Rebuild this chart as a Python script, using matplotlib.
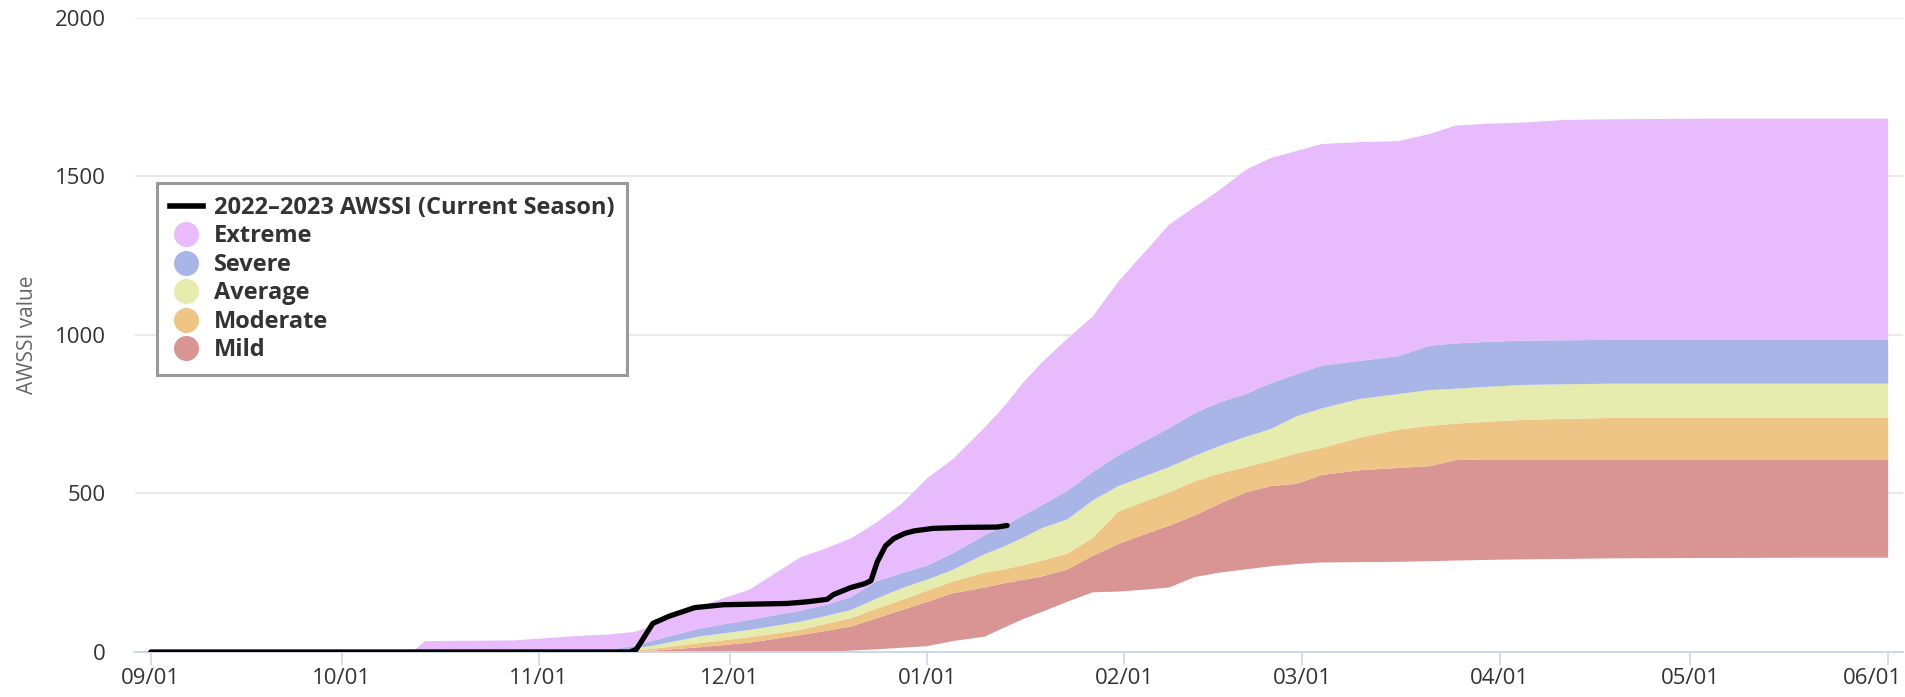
import matplotlib
matplotlib.use("Agg")
import matplotlib.pyplot as plt
import matplotlib.transforms as mtransforms
from matplotlib.lines import Line2D

"""
AWSSI season chart: climatology bands plus the current season line
"""

# days counted from 09/01
band_days = [41, 43, 57, 67, 72, 76, 79, 86, 94, 102, 106, 110, 114, 118, 122, 126,
             131, 134, 137, 140, 144, 148, 152, 156, 160, 164, 168, 172, 176, 180,
             184, 190, 196, 201, 205, 210, 216, 222, 230, 245, 260, 273]

# band edges (AWSSI value), lowest to highest
edge_min = [0, 0, 0, 0, 0, 0, 0, 0, 0, 0, 0, 6, 10, 15, 20, 36,
            50, 78, 105, 128, 160, 190, 192, 198, 205, 238, 252, 262, 272, 279,
            284, 285, 286, 288, 290, 292, 294, 295, 297, 298, 299, 299]
edge_mild = [0, 0, 0, 0, 0, 2, 6, 16, 31, 55, 68, 82, 108, 134, 160, 187,
             205, 218, 229, 240, 262, 305, 342, 372, 400, 432, 470, 505, 525, 532,
             560, 575, 582, 588, 607, 609, 609, 609, 609, 609, 609, 609]
edge_moderate = [0, 0, 0, 0, 0, 5, 12, 29, 48, 71, 90, 108, 138, 166, 195, 224,
                 252, 262, 275, 290, 312, 362, 445, 475, 505, 540, 565, 585, 605, 628,
                 645, 678, 703, 715, 722, 728, 734, 737, 740, 740, 740, 740]
edge_average = [0, 0, 0, 0, 3, 12, 22, 50, 71, 97, 115, 134, 170, 203, 230, 261,
                310, 334, 362, 392, 420, 480, 525, 555, 585, 620, 652, 680, 705, 745,
                770, 800, 815, 828, 832, 838, 844, 846, 848, 848, 848, 848]
edge_severe = [0, 0, 0, 2, 8, 22, 38, 75, 103, 132, 150, 175, 225, 250, 275, 313,
               370, 398, 432, 465, 510, 570, 622, 665, 708, 755, 790, 815, 850, 878,
               905, 920, 935, 968, 975, 980, 984, 985, 986, 986, 986, 986]
edge_max = [0, 36, 38, 52, 57, 65, 85, 145, 198, 300, 328, 360, 410, 470, 550, 610,
            710, 775, 850, 915, 990, 1060, 1170, 1260, 1350, 1405, 1460, 1522, 1560, 1582,
            1604, 1610, 1613, 1636, 1662, 1668, 1672, 1680, 1682, 1684, 1684, 1684]

# current season
season_days = [0, 75.3, 76.3, 77.3, 78.9, 81.5, 85.5, 90, 95, 100, 103, 106.3, 107.3, 110,
               112.3, 113.2, 114.2, 115.5, 116.8, 118.5, 120, 123, 128, 133, 134.6]
season_vals = [0, 0, 8, 39, 90, 113, 140, 149, 151, 153, 158, 166, 181, 203,
               216, 225, 285, 335, 358, 374, 382, 390, 393, 394, 399]

tick_days = [0, 30, 61, 91, 122, 153, 181, 212, 242, 273]
tick_labels = ["09/01", "10/01", "11/01", "12/01", "01/01", "02/01",
               "03/01", "04/01", "05/01", "06/01"]

band_names = ["Extreme", "Severe", "Average", "Moderate", "Mild"]
band_colors = ["#e8bbfd", "#a9b5e7", "#e6ebae", "#eec585", "#d99494"]

plt.rcParams['font.family'] = ['Open Sans', 'DejaVu Sans']

fig = plt.figure(figsize=(19.05, 6.97), dpi=100)
ax = fig.add_axes([0.0709, 0.0646, 0.928, 0.9096])

#---------------------------------------------------------------------
# bands
edges = [edge_min, edge_mild, edge_moderate, edge_average, edge_severe, edge_max]
for i in range(5):
    color = band_colors[4 - i]
    ax.fill_between(band_days, edges[i], edges[i + 1], color=color, lw=0, zorder=2)

ax.plot(season_days, season_vals, color="black", lw=3.8, solid_capstyle="round",
        solid_joinstyle="round", zorder=4)

#---------------------------------------------------------------------
# axes look
ax.set_xlim(-2.47, 275.4)
ax.set_ylim(0, 2000)
ax.set_yticks([0, 500, 1000, 1500, 2000])
ax.set_xticks(tick_days)
ax.set_xticklabels(tick_labels)
ax.grid(axis="y", color="#e6e6e6", lw=1.2)
ax.set_axisbelow(True)
for side in ["left", "right", "top"]:
    ax.spines[side].set_visible(False)
ax.spines["bottom"].set_color("#ccd6eb")
ax.spines["bottom"].set_linewidth(1.4)
ax.spines["bottom"].set_zorder(3)
ax.tick_params(axis="y", length=0, pad=21, labelsize=16, labelcolor="#333333")
ax.tick_params(axis="x", length=9.5, width=1.2, color="#ccd6eb", pad=2,
               labelsize=16, labelcolor="#333333")
ax.set_ylabel("AWSSI value", fontsize=15, color="#666666", labelpad=12)

# last label is pushed inside the figure, like the original chart does
last = ax.get_xticklabels()[-1]
last.set_horizontalalignment("right")
last.set_transform(last.get_transform() +
                   mtransforms.ScaledTranslation(14 / 100, 0, fig.dpi_scale_trans))

#---------------------------------------------------------------------
# legend
handles = [Line2D([], [], color="black", lw=4)]
for name, color in zip(band_names, band_colors):
    handles.append(Line2D([], [], ls="none", marker="o", markersize=17,
                          markerfacecolor=color, markeredgecolor=color))
labels = ["2022–2023 AWSSI (Current Season)"] + band_names
leg = ax.legend(handles, labels, loc="upper left", bbox_to_anchor=(0.0124, 0.7397),
                borderaxespad=0, frameon=True, fancybox=False,
                prop={"size": 17, "weight": "bold"},
                framealpha=1, edgecolor="#999999", labelspacing=0.19,
                handlelength=1.4, handletextpad=0.45, borderpad=0.55)
leg.get_frame().set_linewidth(2.2)
for t in leg.get_texts():
    t.set_color("#333333")

fig.savefig("out.png", dpi=100)
